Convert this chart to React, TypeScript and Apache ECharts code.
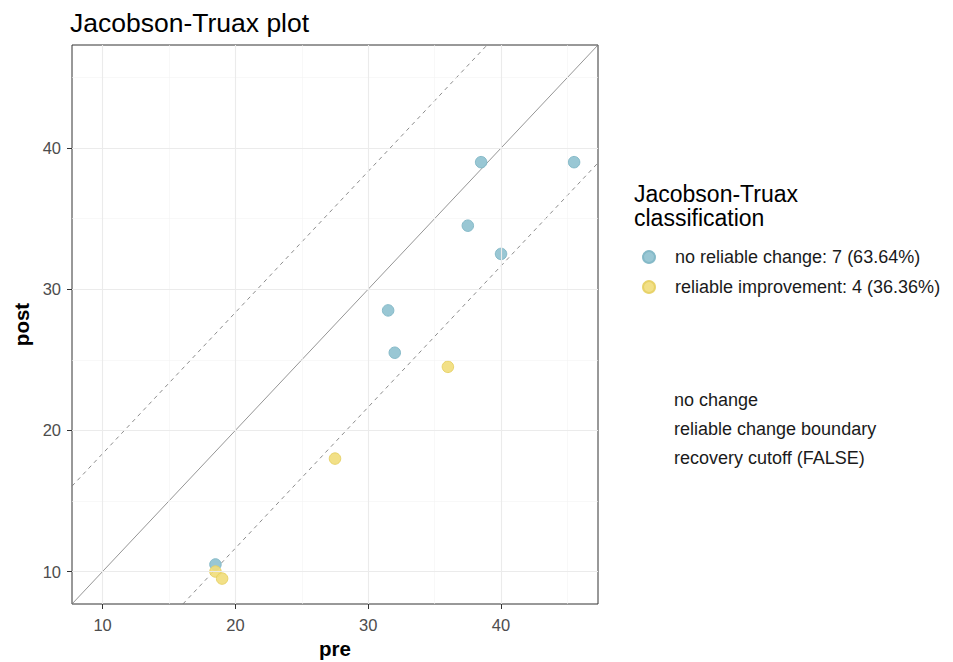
import React, { useEffect, useRef } from "react";
import * as echarts from "echarts";

const FONT = "Liberation Sans";

const noChangePre = [38.5, 45.5, 37.5, 40, 31.5, 32, 18.5];
const noChangePost = [39, 39, 34.5, 32.5, 28.5, 25.5, 10.5];
const improvedPre = [36, 27.5, 18.5, 19];
const improvedPost = [24.5, 18, 10, 9.5];

const majorTicks = [10, 20, 30, 40];
const minorTicks = [15, 25, 35, 45];
const rciBoundary = 8.35;
const axisMin = 7.7;
const axisMax = 47.3;

const noChangeName = "no reliable change: 7 (63.64%)";
const improvedName = "reliable improvement: 4 (36.36%)";
const lineLegend = ["no change", "reliable change boundary", "recovery cutoff (FALSE)"];

export default function App() {
  const ref = useRef<HTMLDivElement>(null);
  useEffect(() => {
    if (!ref.current) return;
    const chart = echarts.init(ref.current, null, { renderer: "svg" });
    const gridMark = (vals: number[], color: string, width: number) =>
      vals.flatMap((v) => [{ xAxis: v }, { yAxis: v }]).map((d) => ({
        ...d,
        lineStyle: { color, width, type: "solid" },
      }));
    const axisCommon = {
      type: "value",
      min: axisMin,
      max: axisMax,
      axisLine: { show: false },
      splitLine: { show: false },
      axisTick: {
        show: true,
        customValues: majorTicks,
        length: 5,
        lineStyle: { color: "#333333", width: 1 },
      },
      axisLabel: {
        customValues: majorTicks,
        color: "#4d4d4d",
        fontSize: 16.5,
        fontFamily: FONT,
      },
      nameLocation: "middle",
      nameTextStyle: { fontSize: 20.5, fontFamily: FONT, color: "#000", fontWeight: "bold" },
    };
    chart.setOption({
      animation: false,
      backgroundColor: "#ffffff",
      textStyle: { fontFamily: FONT },
      title: {
        text: "Jacobson-Truax plot",
        left: 65,
        top: 4,
        textStyle: { fontSize: 26.5, fontWeight: "normal", color: "#000", fontFamily: FONT },
      },
      grid: {
        left: 72,
        top: 45,
        right: 355,
        bottom: 58,
        containLabel: false,
        outerBoundsMode: "none",
        show: true,
        borderColor: "#333333",
        borderWidth: 1,
        backgroundColor: "#ffffff",
      },
      xAxis: { ...axisCommon, name: "pre", nameGap: 34, axisLabel: { ...axisCommon.axisLabel, margin: 12 } },
      yAxis: { ...axisCommon, name: "post", nameGap: 40, axisLabel: { ...axisCommon.axisLabel, margin: 11 } },
      legend: {
        data: [noChangeName, improvedName],
        orient: "vertical",
        left: 637,
        top: 243,
        icon: "circle",
        itemWidth: 12,
        itemHeight: 12,
        itemGap: 12,
        textStyle: { fontSize: 18, color: "#1a1a1a", fontFamily: FONT, padding: [0, 0, 0, 15] },
      },
      graphic: [
        {
          type: "text",
          left: 634,
          top: 182,
          style: {
            text: "Jacobson-Truax\nclassification",
            fontSize: 23,
            lineHeight: 24,
            fill: "#000",
            fontFamily: FONT,
          },
        },
        ...lineLegend.map((t, i) => ({
          type: "text",
          x: 674,
          y: 400 + i * 29,
          style: {
            text: t,
            fontSize: 18,
            fill: "#1a1a1a",
            fontFamily: FONT,
            verticalAlign: "middle",
          },
        })),
      ],
      series: [
        {
          type: "line",
          name: "grid",
          data: [],
          silent: true,
          z: 0,
          markLine: {
            silent: true,
            symbol: ["none", "none"],
            label: { show: false },
            animation: false,
            data: [...gridMark(minorTicks, "#f4f4f4", 0.6), ...gridMark(majorTicks, "#ebebeb", 1.1)],
          },
        },
        {
          type: "line",
          name: "no change",
          data: [
            [axisMin, axisMin],
            [axisMax, axisMax],
          ],
          showSymbol: false,
          symbol: "none",
          silent: true,
          lineStyle: { color: "#7a7a7a", width: 0.8 },
          z: 1,
        },
        {
          type: "line",
          name: "reliable change boundary",
          data: [
            [axisMin, axisMin + rciBoundary],
            [axisMax - rciBoundary, axisMax],
          ],
          showSymbol: false,
          symbol: "none",
          silent: true,
          lineStyle: { color: "#7f7f7f", width: 0.9, type: [4, 4] },
          z: 1,
        },
        {
          type: "line",
          name: "reliable change boundary 2",
          data: [
            [axisMin + rciBoundary, axisMin],
            [axisMax, axisMax - rciBoundary],
          ],
          showSymbol: false,
          symbol: "none",
          silent: true,
          lineStyle: { color: "#7f7f7f", width: 0.9, type: [4, 4] },
          z: 1,
        },
        {
          type: "scatter",
          name: noChangeName,
          data: noChangePre.map((x, i) => [x, noChangePost[i]]),
          symbolSize: 11.5,
          itemStyle: { color: "#93c4d2", borderColor: "#82b7c6", borderWidth: 1, opacity: 0.95 },
          z: 3,
        },
        {
          type: "scatter",
          name: improvedName,
          data: improvedPre.map((x, i) => [x, improvedPost[i]]),
          symbolSize: 11.5,
          itemStyle: { color: "#f1dd7a", borderColor: "#e6cf62", borderWidth: 1, opacity: 0.9 },
          z: 3,
        },
      ],
    });
    return () => chart.dispose();
  }, []);
  return <div ref={ref} style={{ width: 953, height: 662, position: "absolute", left: 0, top: 0 }} />;
}
